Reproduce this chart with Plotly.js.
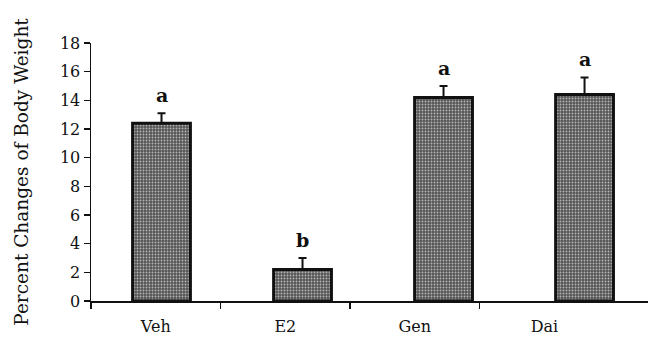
<!DOCTYPE html>
<html>
<head>
<meta charset="utf-8">
<script src="https://cdn.plot.ly/plotly-3.0.1.min.js"></script>
<style>
  html, body { margin: 0; padding: 0; background: #fff; }
  #chart { width: 649px; height: 345px; }
</style>
</head>
<body>
<div id="chart"></div>
<script>
// Treatment groups and mean percent change of body weight
const groups = ['Veh', 'E2', 'Gen', 'Dai'];
const meanChange = [12.4, 2.2, 14.2, 14.4];
const semUpper = [0.7, 0.8, 0.8, 1.2];
const sigLetters = ['a', 'b', 'a', 'a'];
const yTicks = [0, 2, 4, 6, 8, 10, 12, 14, 16, 18];

const serif = '"DejaVu Serif", "Liberation Serif", serif';
const positions = groups.map((g, i) => i);

const bars = {
  type: 'bar',
  x: positions,
  y: meanChange,
  xaxis: 'x2',
  yaxis: 'y',
  width: 0.41,
  marker: {
    color: '#6c6c6c',
    line: { color: '#111', width: 3 },
    pattern: { shape: '.', fgcolor: '#b5b5b5', bgcolor: '#555555', size: 3, solidity: 0.3 }
  },
  error_y: {
    type: 'data',
    symmetric: false,
    array: semUpper,
    arrayminus: semUpper.map(() => 0),
    color: '#111',
    thickness: 2,
    width: 4
  },
  hoverinfo: 'skip',
  showlegend: false
};

// carries the category axis so its labels and ticks are drawn
const labelCarrier = {
  type: 'scatter',
  mode: 'markers',
  x: positions,
  y: positions.map(() => 0),
  xaxis: 'x',
  yaxis: 'y',
  marker: { opacity: 0, size: 1 },
  hoverinfo: 'skip',
  showlegend: false
};

const letterNotes = groups.map((g, i) => ({
  xref: 'x2', yref: 'y',
  x: positions[i],
  y: meanChange[i] + semUpper[i],
  text: '<b>' + sigLetters[i] + '</b>',
  showarrow: false,
  yanchor: 'bottom',
  yshift: 5,
  font: { family: serif, size: 19, color: '#111' }
}));

const layout = {
  width: 649,
  height: 345,
  margin: { l: 91, r: 1, t: 43, b: 44 },
  paper_bgcolor: '#fff',
  plot_bgcolor: '#fff',
  showlegend: false,
  font: { family: serif, color: '#111' },
  xaxis: {
    type: 'linear',
    range: [-0.5, 3.8],
    tickmode: 'array',
    tickvals: positions,
    ticktext: groups,
    ticks: '',
    ticklabelstandoff: 10,
    showgrid: false,
    zeroline: false,
    showline: true,
    linecolor: '#111',
    linewidth: 1.5,
    tickfont: { family: serif, size: 16, color: '#111' },
    minor: { tickmode: 'array', tickvals: [-0.5, 0.5, 1.5, 2.5], ticks: 'outside', ticklen: 6, tickwidth: 1.5, tickcolor: '#111', showgrid: false },
    fixedrange: true
  },
  xaxis2: {
    type: 'linear',
    overlaying: 'x',
    range: [-0.5, 3.45],
    visible: false,
    fixedrange: true
  },
  yaxis: {
    range: [0, 18],
    tickmode: 'array',
    tickvals: yTicks,
    ticks: 'outside',
    ticklen: 6,
    tickwidth: 1.5,
    tickcolor: '#111',
    showgrid: false,
    zeroline: false,
    showline: true,
    linecolor: '#111',
    linewidth: 1.5,
    tickfont: { family: serif, size: 16, color: '#111' },
    title: { text: 'Percent Changes of Body Weight', font: { family: serif, size: 18.5, color: '#111' }, standoff: 26 },
    fixedrange: true
  },
  annotations: letterNotes
};

Plotly.newPlot('chart', [labelCarrier, bars], layout, { displayModeBar: false, staticPlot: true });
</script>
</body>
</html>
